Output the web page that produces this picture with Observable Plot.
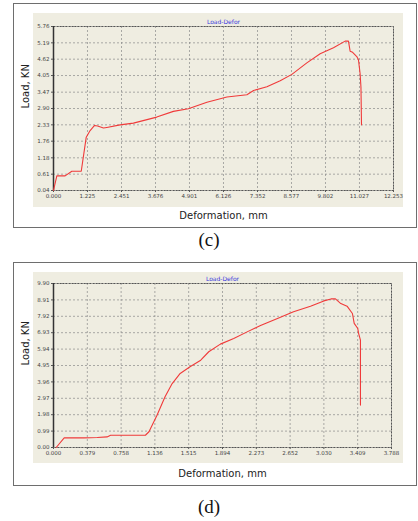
<!DOCTYPE html>
<html><head><meta charset="utf-8">
<script src="https://cdn.jsdelivr.net/npm/d3@7"></script>
<script src="https://cdn.jsdelivr.net/npm/@observablehq/plot@0.6"></script>
<style>
body{margin:0;background:#fff;width:418px;height:521px;position:relative;overflow:hidden;font-family:"DejaVu Sans",sans-serif}
.frame{position:absolute;border:1.5px solid #6e6e6e;box-sizing:border-box}
.beige{position:absolute;background:#efede1}
.chart{position:absolute}
.cap{position:absolute;width:418px;left:0;text-align:center;font-family:"Liberation Serif",serif;font-size:19px;color:#111}
</style></head>
<body>
<div class="frame" style="left:13px;top:3px;width:404px;height:225px"></div>
<div class="beige" style="left:33px;top:13px;width:370px;height:194px"></div>
<div class="chart" id="c1" style="left:13px;top:3px"></div>
<div class="cap" style="top:229px">(c)</div>
<div class="frame" style="left:13px;top:262px;width:404px;height:224px"></div>
<div class="beige" style="left:33px;top:272px;width:370px;height:191px"></div>
<div class="chart" id="c2" style="left:13px;top:262px"></div>
<div class="cap" style="top:496px">(d)</div>
<script>
// Panel (c)
const cTitle = "Load-Defor";
const cXTicks = [0.000, 1.225, 2.451, 3.676, 4.901, 6.126, 7.352, 8.577, 9.802, 11.027, 12.253];
const cYTicks = [0.04, 0.61, 1.18, 1.76, 2.33, 2.90, 3.47, 4.05, 4.62, 5.19, 5.76];
const cDef = [0.00, 0.12, 0.42, 0.66, 1.00, 1.18, 1.32, 1.48, 1.59, 1.80, 1.92, 2.40, 2.88, 3.72, 4.32, 4.86, 5.53, 6.25, 6.97, 7.21, 7.69, 8.17, 8.59, 9.13, 9.61, 10.09, 10.51, 10.63, 10.69, 10.78, 10.93, 10.99, 11.05, 11.08, 11.10];
const cLoad = [0.04, 0.55, 0.55, 0.71, 0.71, 1.90, 2.13, 2.31, 2.29, 2.22, 2.24, 2.33, 2.39, 2.60, 2.80, 2.89, 3.12, 3.30, 3.38, 3.53, 3.66, 3.87, 4.09, 4.49, 4.81, 5.02, 5.25, 5.25, 4.90, 4.86, 4.71, 4.60, 4.11, 3.65, 2.33];
// Panel (d)
const dTitle = "Load-Defor";
const dXTicks = [0.000, 0.379, 0.758, 1.136, 1.515, 1.894, 2.273, 2.652, 3.030, 3.409, 3.788];
const dYTicks = [0.00, 0.99, 1.98, 2.97, 3.96, 4.95, 5.94, 6.93, 7.92, 8.91, 9.90];
const dDef = [0.03, 0.12, 0.34, 0.49, 0.60, 0.64, 1.03, 1.07, 1.16, 1.25, 1.33, 1.42, 1.53, 1.65, 1.74, 1.87, 2.02, 2.17, 2.32, 2.51, 2.69, 2.88, 3.03, 3.11, 3.16, 3.22, 3.29, 3.35, 3.37, 3.41, 3.42, 3.44, 3.44];
const dLoad = [0.00, 0.58, 0.58, 0.60, 0.64, 0.74, 0.74, 0.95, 1.95, 3.06, 3.86, 4.47, 4.87, 5.27, 5.78, 6.24, 6.58, 6.98, 7.36, 7.79, 8.19, 8.53, 8.85, 8.97, 8.97, 8.69, 8.53, 8.09, 7.49, 7.18, 6.88, 6.48, 2.56];
const xLabel = "Deformation, mm";
const yLabel = "Load, KN";

function panel(xs, ys, xt, yt, title, dims) {
  const data = xs.map((x, i) => ({x, y: ys[i]}));
  const xd = [xt[0], xt[xt.length - 1]], yd = [yt[0], yt[yt.length - 1]];
  return Plot.plot({
    width: 404, height: dims.h,
    marginLeft: 40, marginRight: dims.mr, marginTop: dims.mt, marginBottom: dims.mb,
    style: {background: "transparent", fontFamily: "DejaVu Sans, sans-serif", color: "#444"},
    x: {domain: xd, label: null},
    y: {domain: yd, label: null},
    marks: [
      Plot.gridX(xt, {stroke: "#8a8a8a", strokeOpacity: 0.7, strokeDasharray: "2,2"}),
      Plot.gridY(yt, {stroke: "#8a8a8a", strokeOpacity: 0.7, strokeDasharray: "2,2"}),
      Plot.frame({stroke: "#555", strokeDasharray: "2,1"}),
      Plot.ruleX([xd[0]], {stroke: "#333", strokeWidth: 1.5}),
      Plot.axisX({ticks: xt, tickFormat: d => d.toFixed(3), tickSize: 2, tickPadding: 2, fontSize: 5.5, stroke: "#555"}),
      Plot.axisY({ticks: yt, tickFormat: d => d.toFixed(2), tickSize: 2, tickPadding: 2, fontSize: 5.5, stroke: "#555"}),
      Plot.line(data, {x: "x", y: "y", stroke: "#f03a3a", strokeWidth: 1.1}),
      Plot.text([title], {frameAnchor: "top", lineAnchor: "bottom", dy: -3, fill: "#3b3bdc", fontSize: 6}),
      Plot.text([xLabel], {frameAnchor: "bottom", dy: dims.xdy, fill: "#222", fontSize: 10}),
      Plot.text([yLabel], {frameAnchor: "left", rotate: -90, dx: -28, fill: "#222", fontSize: 10})
    ]
  });
}
document.getElementById("c1").append(panel(cDef, cLoad, cXTicks, cYTicks, cTitle, {h: 225, mr: 24, mt: 23, mb: 38, xdy: 28}));
document.getElementById("c2").append(panel(dDef, dLoad, dXTicks, dYTicks, dTitle, {h: 224, mr: 26, mt: 21, mb: 39, xdy: 29}));
</script>
</body></html>
